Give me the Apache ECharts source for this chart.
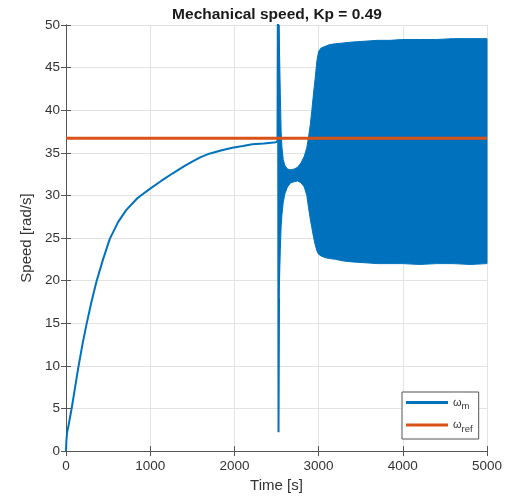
<!DOCTYPE html>
<html>
<head>
<meta charset="utf-8">
<script src="https://cdn.jsdelivr.net/npm/echarts@6/dist/echarts.min.js"></script>
<style>
  html, body { margin: 0; padding: 0; background: #fff; }
  #main { width: 511px; height: 498px; }
</style>
</head>
<body>
<div id="main"></div>
<script>
// smooth start-up of the speed
var riseT = [0, 5, 15, 30, 67, 100, 146, 195, 244, 300, 362, 440, 520, 620, 717, 850, 1000, 1130, 1268, 1400, 1504, 1600, 1701, 1850, 1976, 2100, 2213, 2350, 2469, 2512];
var riseV = [0, 1.3, 2.3, 3.0, 5.0, 7.0, 9.8, 12.5, 14.9, 17.4, 19.9, 22.5, 24.9, 26.9, 28.3, 29.7, 30.8, 31.7, 32.6, 33.4, 34.0, 34.5, 34.9, 35.3, 35.6, 35.8, 36.0, 36.1, 36.2, 36.3];
// the spike when the controller kicks in
var spikeT = [2512, 2518, 2524, 2530];
var spikeV = [36.3, 60, 2.2, 18];
// envelope of the fast oscillation after the spike
var bandT = [2530, 2545, 2555, 2565, 2580, 2600, 2630, 2670, 2710, 2750, 2790, 2830, 2860, 2880, 2900, 2920, 2940, 2960, 2980, 3000, 3030, 3080, 3130, 3200, 3300, 3400, 3550, 3700, 3850, 4000, 4200, 4400, 4600, 4800, 5000];
var bandUpper = [55, 42, 37.5, 35.6, 34.2, 33.5, 33.1, 33.0, 33.1, 33.3, 33.8, 34.6, 35.6, 36.8, 38.2, 40.0, 42.0, 43.8, 45.8, 46.9, 47.3, 47.5, 47.7, 47.8, 47.9, 48.0, 48.1, 48.2, 48.2, 48.3, 48.3, 48.3, 48.4, 48.4, 48.4];
var bandLower = [18, 23.5, 26.4, 27.8, 29.2, 30.2, 31.0, 31.5, 31.6, 31.7, 31.5, 31.0, 30.0, 28.6, 27.3, 26.2, 25.1, 24.2, 23.5, 23.1, 22.9, 22.7, 22.6, 22.5, 22.3, 22.2, 22.1, 22.0, 22.0, 22.0, 21.9, 22.0, 22.0, 21.9, 22.0];
// reference speed
var refT = [0, 5000];
var refV = [36.7, 36.7];

var BLUE = '#0072BD';
var ORANGE = '#D95319';
var FONT = 'Liberation Sans';

function pairs(xs, ys) {
  return xs.map(function (x, i) { return [x, ys[i]]; });
}

var bandData = bandT.map(function (t, i) { return [t, bandLower[i], bandUpper[i]]; });

// whole band as one polygon: upper edge forward, lower edge back
function renderBand(params, api) {
  if (params.dataIndex !== 0) return null;
  var pts = [];
  for (var i = 0; i < bandT.length; i++) pts.push(api.coord([bandT[i], bandUpper[i]]));
  for (var j = bandT.length - 1; j >= 0; j--) pts.push(api.coord([bandT[j], bandLower[j]]));
  var cs = params.coordSys;
  pts = echarts.graphic.clipPointsByRect(pts, { x: cs.x, y: cs.y, width: cs.width, height: cs.height });
  return {
    type: 'polygon',
    shape: { points: pts },
    style: { fill: BLUE, stroke: BLUE, lineWidth: 1 }
  };
}

var chart = echarts.init(document.getElementById('main'));

var axisLine = { show: true, lineStyle: { color: '#555', width: 1 } };
var tick = { show: true, inside: true, length: 5, lineStyle: { color: '#555' } };
var plain = function (v) { return String(v); };

var option = {
  animation: false,
  backgroundColor: '#fff',
  textStyle: { fontFamily: FONT },
  title: {
    text: 'Mechanical speed, Kp = 0.49',
    left: 277,
    top: 7,
    padding: 0,
    textAlign: 'center',
    textStyle: { fontFamily: FONT, fontSize: 15.5, fontWeight: 'bold', color: '#1a1a1a' }
  },
  grid: { left: 66, right: 24, top: 25, bottom: 46 },
  xAxis: [{
    type: 'value',
    min: 0, max: 5000, interval: 1000,
    name: 'Time [s]',
    nameLocation: 'middle',
    nameGap: 25,
    nameTextStyle: { fontFamily: FONT, fontSize: 15, color: '#333' },
    axisLine: axisLine,
    axisTick: tick,
    axisLabel: { fontFamily: FONT, fontSize: 13.5, color: '#333', margin: 8, formatter: plain },
    splitLine: { show: true, lineStyle: { color: '#e3e3e3', width: 1 } }
  }, {
    type: 'value', position: 'top',
    min: 0, max: 5000, interval: 1000,
    axisLine: axisLine, axisTick: tick,
    axisLabel: { show: false }, splitLine: { show: false }
  }],
  yAxis: [{
    type: 'value',
    min: 0, max: 50, interval: 5,
    name: 'Speed [rad/s]',
    nameLocation: 'middle',
    nameGap: 25,
    nameTextStyle: { fontFamily: FONT, fontSize: 15, color: '#333' },
    axisLine: axisLine,
    axisTick: tick,
    axisLabel: { fontFamily: FONT, fontSize: 13.5, color: '#333', margin: 6, formatter: plain },
    splitLine: { show: true, lineStyle: { color: '#e3e3e3', width: 1 } }
  }, {
    type: 'value', position: 'right',
    min: 0, max: 50, interval: 5,
    axisLine: axisLine, axisTick: tick,
    axisLabel: { show: false }, splitLine: { show: false }
  }],
  legend: {
    data: ['ωm', 'ωref'],
    orient: 'vertical',
    left: 402,
    top: 392,
    padding: [5, 6, 5, 4],
    itemGap: 8,
    itemWidth: 42,
    itemHeight: 3,
    icon: 'rect',
    backgroundColor: '#fff',
    borderColor: '#555',
    borderWidth: 1,
    borderRadius: 0,
    formatter: function (name) {
      return '{w|ω}{s|' + name.slice(1) + '}';
    },
    textStyle: {
      fontFamily: FONT,
      color: '#333',
      rich: {
        w: { fontFamily: FONT, fontSize: 11, color: '#333' },
        s: { fontFamily: FONT, fontSize: 9.5, color: '#333', padding: [8, 0, 0, 0] }
      }
    }
  },
  series: [{
    name: 'ωm',
    type: 'line',
    data: pairs(riseT, riseV),
    symbol: 'none',
    clip: true,
    lineStyle: { color: BLUE, width: 2 },
    itemStyle: { color: BLUE },
    z: 2
  }, {
    name: 'ωm',
    type: 'line',
    data: pairs(spikeT, spikeV),
    symbol: 'none',
    clip: true,
    lineStyle: { color: BLUE, width: 2 },
    itemStyle: { color: BLUE },
    z: 2
  }, {
    name: 'band',
    type: 'custom',
    data: bandData,
    renderItem: renderBand,
    encode: { x: 0, y: [1, 2] },
    itemStyle: { color: BLUE },
    z: 2
  }, {
    name: 'ωref',
    type: 'line',
    data: pairs(refT, refV),
    symbol: 'none',
    clip: true,
    lineStyle: { color: ORANGE, width: 3 },
    itemStyle: { color: ORANGE },
    z: 3
  }]
};

chart.setOption(option);
</script>
</body>
</html>
